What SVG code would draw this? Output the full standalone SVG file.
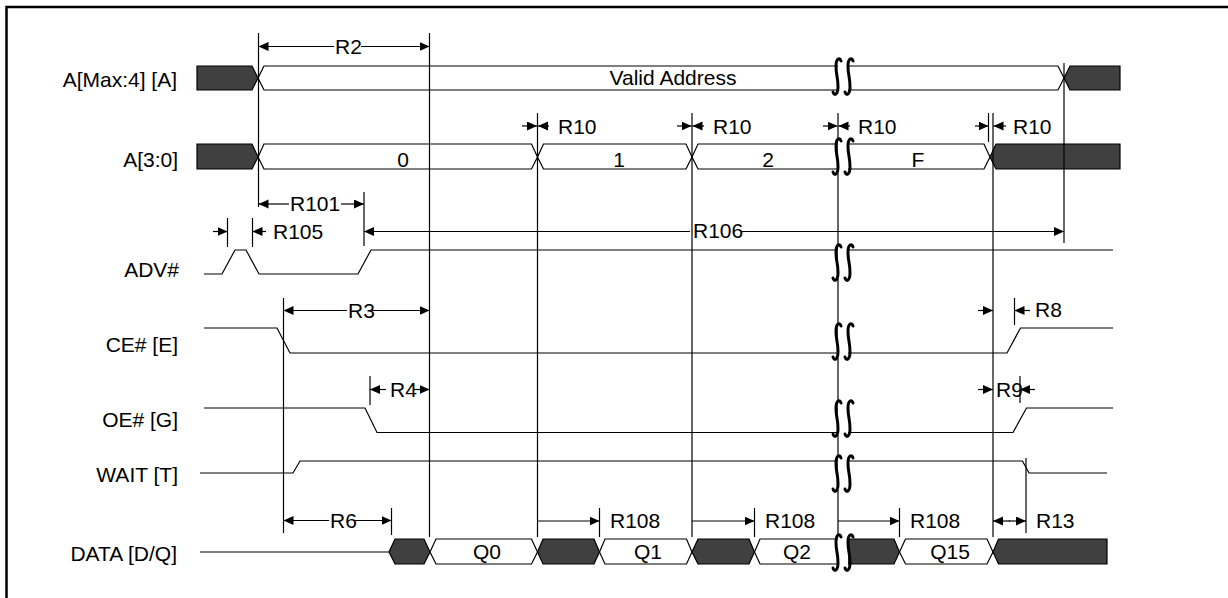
<svg xmlns="http://www.w3.org/2000/svg" width="1228" height="598" viewBox="0 0 1228 598">
<style>
.w{fill:none;stroke:#000;stroke-width:1.2}
.bus{fill:#fff;stroke:#000;stroke-width:1.2}
.dk{fill:#404040;stroke:#000;stroke-width:1.2}
.t{font-family:"Liberation Sans",Arial,sans-serif;font-size:21px;fill:#000}
.lbl{text-anchor:end}
.c{text-anchor:middle}
.v{stroke:#000;stroke-width:1.2}
.dim{stroke:#000;stroke-width:1.2;fill:none;marker-end:url(#ah)}
.brk{fill:none;stroke:#000;stroke-width:3;stroke-linecap:round}
.msk{fill:#fff;stroke:none}
</style>
<defs>
<marker id="ah" markerUnits="userSpaceOnUse" markerWidth="11" markerHeight="10" refX="10" refY="4.5" orient="auto">
<path d="M0,0 L10,4.5 L0,9 z" fill="#000"/>
</marker>
<path id="sq" class="brk" d="M4,3 C3,-1 -1,0 -1,8 C-1,18 1,18 1,29 C1,37 -3,38 -4,34"/>
</defs>
<rect x="6.5" y="7" width="1240" height="600" fill="#fff" stroke="#000" stroke-width="2.5"/>

<g id="labels">
<text class="t lbl" x="177" y="87">A[Max:4] [A]</text>
<text class="t lbl" x="178" y="166.5">A[3:0]</text>
<text class="t lbl" x="179" y="277">ADV#</text>
<text class="t lbl" x="178" y="351.5">CE# [E]</text>
<text class="t lbl" x="178" y="426.5">OE# [G]</text>
<text class="t lbl" x="178" y="481.5">WAIT [T]</text>
<text class="t lbl" x="177" y="560.5">DATA [D/Q]</text>
</g>

<g id="sig-addr-hi">
<polygon class="dk" points="197,66 252,66 258,78 252,90 197,90"/>
<polygon class="bus" points="258,78 264,66 1058,66 1064,78 1058,90 264,90"/>
<polygon class="dk" points="1064,78 1070,66 1120,66 1120,90 1070,90"/>
<text class="t c" x="673" y="85">Valid Address</text>
</g>

<g id="sig-addr-lo">
<polygon class="dk" points="197,144 252,144 258,157 252,169 197,169"/>
<polygon class="bus" points="258,157 264,144 531.5,144 537.5,157 531.5,169 264,169"/>
<polygon class="bus" points="537.5,157 543.5,144 686,144 692,157 686,169 543.5,169"/>
<polygon class="bus" points="692,157 698,144 984,144 990,157 984,169 698,169"/>
<polygon class="dk" points="990,157 996,144 1120,144 1120,169 996,169"/>
<text class="t c" x="403" y="166.5">0</text>
<text class="t c" x="619" y="166.5">1</text>
<text class="t c" x="768" y="166.5">2</text>
<text class="t c" x="918" y="166.5">F</text>
</g>

<g id="sig-adv">
<polyline class="w" points="204,274 222,274 235,250 246,250 259,274 358,274 371,250 1113,250"/>
</g>

<g id="sig-ce">
<polyline class="w" points="204,328 277,328 290,353 1007,353 1020.5,328 1113,328"/>
</g>

<g id="sig-oe">
<polyline class="w" points="204,408 365,408 377,432.5 1013,432.5 1026.5,408 1113,408"/>
</g>

<g id="sig-wait">
<polyline class="w" points="200,473 293,473 300,461 1022.5,461 1029,473 1107,473"/>
</g>

<g id="sig-data">
<line class="w" x1="200" y1="552" x2="389" y2="552"/>
<polygon class="dk" points="389,552 395,539 424,539 430,552 424,564 395,564"/>
<polygon class="bus" points="430,552 436,539 531.5,539 537.5,552 531.5,564 436,564"/>
<polygon class="dk" points="537.5,552 543,539 594,539 599.5,552 594,564 543,564"/>
<polygon class="bus" points="599.5,552 605,539 686.5,539 692,552 686.5,564 605,564"/>
<polygon class="dk" points="692,552 698,539 749,539 754.5,552 749,564 698,564"/>
<polygon class="bus" points="754.5,552 760,539 845,539 845,564 760,564"/>
<polygon class="dk" points="843,539 894,539 899.5,552 894,564 843,564"/>
<polygon class="bus" points="899.5,552 905.5,539 987,539 993,552 987,564 905.5,564"/>
<polygon class="dk" points="993,552 998.5,539 1107,539 1107,564 998.5,564"/>
<text class="t c" x="487" y="559">Q0</text>
<text class="t c" x="648" y="559">Q1</text>
<text class="t c" x="797" y="559">Q2</text>
<text class="t c" x="950" y="559">Q15</text>
</g>

<g id="connectors">
<line class="v" x1="258.5" y1="33" x2="258.5" y2="207"/>
<line class="v" x1="429.5" y1="33" x2="429.5" y2="537"/>
<line class="v" x1="537.5" y1="113" x2="537.5" y2="537"/>
<line class="v" x1="692" y1="113" x2="692" y2="537"/>
<line class="v" x1="838" y1="113" x2="838" y2="537"/>
<line class="v" x1="988.5" y1="113" x2="988.5" y2="142"/>
<line class="v" x1="993" y1="113" x2="993" y2="537"/>
<line class="v" x1="1064" y1="63" x2="1064" y2="243"/>
<line class="v" x1="364" y1="192" x2="364" y2="246"/>
<line class="v" x1="227.5" y1="218" x2="227.5" y2="247"/>
<line class="v" x1="252.5" y1="218" x2="252.5" y2="247"/>
<line class="v" x1="283.5" y1="298" x2="283.5" y2="533"/>
<line class="v" x1="370" y1="376" x2="370" y2="405"/>
<line class="v" x1="1014.5" y1="298" x2="1014.5" y2="325"/>
<line class="v" x1="1020" y1="376" x2="1020" y2="403"/>
<line class="v" x1="391.5" y1="508" x2="391.5" y2="535"/>
<line class="v" x1="599.5" y1="508" x2="599.5" y2="537"/>
<line class="v" x1="754.5" y1="508" x2="754.5" y2="537"/>
<line class="v" x1="899.5" y1="508" x2="899.5" y2="537"/>
<line class="v" x1="1026" y1="458" x2="1026" y2="533"/>

<line class="dim" x1="334" y1="46.5" x2="258.5" y2="46.5"/>
<line class="dim" x1="361" y1="46.5" x2="429.5" y2="46.5"/>
<text class="t" x="335" y="54">R2</text>
<line class="dim" x1="522" y1="126" x2="537" y2="126"/>
<line class="dim" x1="549" y1="126" x2="538" y2="126"/>
<text class="t" x="558" y="133.5">R10</text>
<line class="dim" x1="677" y1="126" x2="691.5" y2="126"/>
<line class="dim" x1="704" y1="126" x2="692.5" y2="126"/>
<text class="t" x="713" y="133.5">R10</text>
<line class="dim" x1="823" y1="126" x2="837.5" y2="126"/>
<line class="dim" x1="850" y1="126" x2="838.5" y2="126"/>
<text class="t" x="858" y="133.5">R10</text>
<line class="dim" x1="975" y1="126" x2="988.5" y2="126"/>
<line class="dim" x1="1006" y1="126" x2="993.5" y2="126"/>
<text class="t" x="1013" y="133.5">R10</text>
<line class="dim" x1="289" y1="204" x2="258.5" y2="204"/>
<line class="dim" x1="341" y1="204" x2="364" y2="204"/>
<text class="t" x="290" y="211">R101</text>
<line class="dim" x1="213" y1="231.5" x2="227.5" y2="231.5"/>
<line class="dim" x1="266" y1="231.5" x2="252.5" y2="231.5"/>
<text class="t" x="273" y="238.5">R105</text>
<line class="dim" x1="690" y1="231.5" x2="364" y2="231.5"/>
<line class="dim" x1="742" y1="231.5" x2="1064" y2="231.5"/>
<text class="t" x="693" y="238">R106</text>
<line class="dim" x1="347" y1="310.5" x2="283.5" y2="310.5"/>
<line class="dim" x1="372" y1="310.5" x2="429.5" y2="310.5"/>
<text class="t" x="348" y="318">R3</text>
<line class="dim" x1="978" y1="310.5" x2="993" y2="310.5"/>
<line class="dim" x1="1030" y1="310.5" x2="1014.5" y2="310.5"/>
<text class="t" x="1035" y="317">R8</text>
<line class="dim" x1="386" y1="389.5" x2="370" y2="389.5"/>
<line class="dim" x1="414" y1="389.5" x2="429.5" y2="389.5"/>
<text class="t" x="390" y="397">R4</text>
<line class="dim" x1="978" y1="389.5" x2="993" y2="389.5"/>
<line class="dim" x1="1035" y1="389.5" x2="1020" y2="389.5"/>
<text class="t" x="996" y="397">R9</text>
<line class="dim" x1="329" y1="520.5" x2="283.5" y2="520.5"/>
<line class="dim" x1="354" y1="520.5" x2="391.5" y2="520.5"/>
<text class="t" x="330" y="527.5">R6</text>
<line class="dim" x1="537.5" y1="521" x2="599.5" y2="521"/>
<text class="t" x="610" y="528">R108</text>
<line class="dim" x1="692" y1="521" x2="754.5" y2="521"/>
<text class="t" x="765" y="528">R108</text>
<line class="dim" x1="838" y1="521" x2="899.5" y2="521"/>
<text class="t" x="910" y="528">R108</text>
<line class="dim" x1="1010" y1="521" x2="993" y2="521"/>
<line class="dim" x1="1009" y1="521" x2="1026" y2="521"/>
<text class="t" x="1036" y="528">R13</text>
</g>

<g id="breaks">
<rect class="msk" x="838" y="60" width="10" height="33"/>
<rect class="msk" x="838" y="139" width="10" height="34"/>
<rect class="msk" x="838" y="245" width="10" height="34"/>
<rect class="msk" x="838" y="325" width="10" height="33"/>
<rect class="msk" x="838" y="402" width="10" height="33"/>
<rect class="msk" x="838" y="457" width="10" height="33"/>
<rect class="msk" x="838" y="536" width="10" height="33"/>
<use href="#sq" x="837" y="58"/><use href="#sq" x="849" y="58"/>
<use href="#sq" x="837" y="138"/><use href="#sq" x="849" y="138"/>
<use href="#sq" x="837" y="244"/><use href="#sq" x="849" y="244"/>
<use href="#sq" x="837" y="323"/><use href="#sq" x="849" y="323"/>
<use href="#sq" x="837" y="400"/><use href="#sq" x="849" y="400"/>
<use href="#sq" x="837" y="455"/><use href="#sq" x="849" y="455"/>
<use href="#sq" x="837" y="534"/><use href="#sq" x="849" y="534"/>
</g>
</svg>
